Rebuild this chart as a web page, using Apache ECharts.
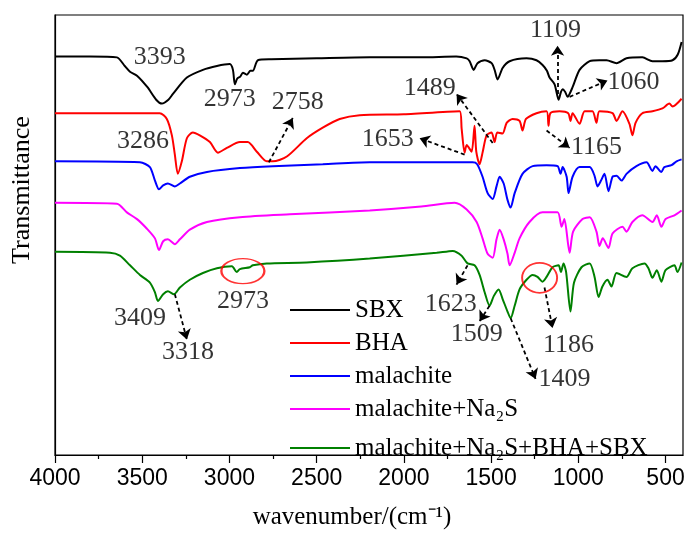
<!DOCTYPE html>
<html>
<head>
    <meta charset="utf-8">
    <title>FTIR</title>
    <script src="https://cdn.jsdelivr.net/npm/echarts@6.0.0/dist/echarts.min.js"></script>
</head>
<body style="margin:0;background:#fff;">
    <div id="main" style="width:692px;height:535px;"></div>
    <script type="text/javascript">
        // [wavenumber, transmittance (a.u., curves stacked)]
        var sbx = [[4000,414],[3800,414],[3645,413],[3600,404],[3570,398],[3530,394],[3470,382],[3420,369],[3387,365],[3350,369],[3324,375],[3244,392],[3152,400],[3072,404],[2998,406],[2980,400],[2969,385],[2955,391],[2938,393],[2923,397],[2900,395],[2880,399],[2866,399],[2837,410],[2760,411],[2500,412],[2196,413],[1900,413],[1700,414],[1640,412],[1623,409],[1600,400],[1578,407],[1537,410],[1497,407],[1480,400],[1463,390],[1434,402],[1394,409],[1297,412],[1240,410],[1205,405],[1180,399],[1165,392],[1136,385],[1113,369],[1100,377],[1090,380],[1075,377],[1062,372],[1033,382],[993,400],[935,409],[880,410],[838,410],[781,407],[724,412],[633,413],[575,409],[518,409],[460,410],[430,416],[408,429]];
        var bha = [[4000,355],[3400,355],[3359,349],[3330,332],[3313,312],[3296,292],[3273,305],[3244,329],[3210,335],[3170,332],[3112,325],[3066,314],[3015,319],[2940,325],[2895,325],[2843,315],[2786,305],[2751,305],[2671,310],[2557,329],[2465,340],[2368,349],[2253,353],[2000,354],[1680,357],[1669,339],[1652,314],[1640,322],[1612,315],[1595,342],[1585,315],[1566,302],[1548,315],[1526,332],[1497,335],[1480,325],[1465,335],[1434,334],[1411,345],[1377,349],[1337,347],[1320,337],[1300,349],[1240,355],[1182,357],[1171,342],[1160,355],[1108,357],[1058,355],[1045,347],[1033,355],[993,344],[964,357],[919,357],[896,345],[879,357],[804,355],[781,347],[747,357],[707,344],[690,332],[672,345],[633,355],[575,357],[518,360],[478,365],[460,362],[408,370]];
        var malachite = [[4000,305],[3513,304],[3456,299],[3427,285],[3404,276],[3380,280],[3353,282],[3313,279],[3284,282],[3227,289],[3129,294],[2940,298],[2751,300],[2465,302],[2196,304],[1800,304],[1606,304],[1580,302],[1549,289],[1520,272],[1491,266],[1469,279],[1451,289],[1428,282],[1406,265],[1388,257],[1365,272],[1320,292],[1262,300],[1182,301],[1119,300],[1102,292],[1090,299],[1067,289],[1056,272],[1033,289],[993,299],[935,299],[907,290],[890,279],[870,285],[850,292],[827,274],[804,289],[781,290],[752,285],[724,292],[667,300],[609,304],[575,295],[558,300],[524,294],[507,299],[466,301],[437,305],[408,307]];
        var malNa2S = [[4000,262],[3645,261],[3588,252],[3530,245],[3473,235],[3427,225],[3404,213],[3380,222],[3353,224],[3313,219],[3284,224],[3227,234],[3129,242],[2940,247],[2654,250],[2196,254],[1900,258],[1709,262],[1640,255],[1583,242],[1549,225],[1520,209],[1491,205],[1469,224],[1451,234],[1428,224],[1406,209],[1394,197],[1365,210],[1337,225],[1280,242],[1205,252],[1119,252],[1096,237],[1080,245],[1050,210],[1030,232],[976,245],[935,247],[896,232],[879,217],[860,225],[827,215],[804,230],[747,237],[724,232],[690,242],[633,249],[575,242],[550,249],[524,237],[500,245],[449,249],[408,254]];
        var malAll = [[4000,211],[3685,210],[3628,207],[3570,197],[3513,187],[3456,179],[3427,169],[3410,160],[3380,167],[3353,170],[3318,167],[3284,174],[3227,182],[3152,189],[3072,194],[2986,196],[2958,190],[2940,193],[2883,195],[2866,197],[2786,199],[2557,200],[2196,204],[1812,210],[1720,212],[1669,207],[1635,199],[1595,197],[1566,187],[1537,169],[1509,155],[1485,165],[1457,172],[1434,162],[1406,149],[1388,142],[1365,155],[1337,172],[1297,182],[1262,187],[1234,185],[1205,180],[1182,185],[1148,195],[1113,197],[1100,190],[1085,199],[1070,190],[1045,149],[1025,179],[982,195],[935,199],[907,185],[884,164],[862,175],[833,182],[810,175],[781,189],[724,185],[690,194],[621,199],[598,194],[575,184],[550,192],[524,180],[500,192],[449,197],[432,190],[408,200]];

        var names = ['SBX', 'BHA', 'malachite', 'malachite+Na₂S', 'malachite+Na₂S+BHA+SBX'];
        var colors = ['#000000', '#ff0000', '#0000ff', '#ff00ff', '#008000'];
        var spectra = [sbx, bha, malachite, malNa2S, malAll];

        var majorTicks = [500, 1000, 1500, 2000, 2500, 3000, 3500, 4000];
        var minorTicks = [750, 1250, 1750, 2250, 2750, 3250, 3750];

        // peak labels: [text, wavenumber, y]
        var peakLabels = [
            ['3393', 3399, 413], ['2973', 2998, 370], ['2758', 2608, 366], ['3286', 3496, 326],
            ['1109', 1131, 441], ['1060', 684, 387], ['1489', 1852, 381], ['1653', 2093, 328],
            ['1165', 896, 320], ['3409', 3513, 142], ['3318', 3238, 107], ['2973', 2923, 160],
            ['1623', 1732, 157], ['1509', 1583, 125], ['1409', 1079, 79], ['1186', 1056, 114]
        ];
        // dashed arrows: [from, to]
        var arrows = [
            [[2774, 304], [2637, 350]], [[1119, 375], [1119, 425]], [[1050, 372], [833, 389]],
            [[1491, 324], [1698, 375]], [[1652, 312], [1910, 329]], [[1182, 337], [1050, 319]],
            [[3313, 167], [3244, 120]], [[1635, 197], [1698, 177]], [[1509, 155], [1566, 139]],
            [[1388, 142], [1245, 79]], [[1194, 174], [1148, 132]]
        ];
        var circled = [[2923, 191], [1222, 184]];
        var circleSizes = [[43, 25], [35, 30]];

        var serif = 'Liberation Serif, Times New Roman, serif';

        var chart = echarts.init(document.getElementById('main'));

        var series = spectra.map(function (d, i) {
            return {
                name: names[i],
                type: 'line',
                data: d,
                symbol: 'none',
                smooth: 0.25,
                lineStyle: { color: colors[i], width: 2 },
                itemStyle: { color: colors[i] },
                silent: true
            };
        });
        series.push({
            type: 'lines',
            coordinateSystem: 'cartesian2d',
            data: arrows.map(function (a) { return { coords: a }; }),
            symbol: ['none', 'arrow'],
            symbolSize: 10,
            lineStyle: { color: '#000', width: 1.8, type: [4, 3], opacity: 1 },
            silent: true,
            z: 5
        });
        series.push({
            type: 'scatter',
            data: circled,
            symbol: 'circle',
            symbolSize: function (v, p) { return circleSizes[p.dataIndex]; },
            itemStyle: { color: 'rgba(0,0,0,0)', borderColor: '#ff0000', borderWidth: 1.8 },
            silent: true,
            z: 6
        });
        series.push({
            type: 'scatter',
            data: peakLabels.map(function (p) { return [p[1], p[2], p[0]]; }),
            symbolSize: 1,
            itemStyle: { color: 'rgba(0,0,0,0)' },
            label: {
                show: true,
                position: 'inside',
                formatter: function (p) { return p.value[2]; },
                color: '#000',
                fontFamily: serif,
                fontSize: 26
            },
            silent: true,
            z: 7
        });

        var axisCommon = {
            type: 'value',
            min: 400,
            max: 4000,
            inverse: true,
            position: 'bottom',
            splitLine: { show: false }
        };

        var legendText = { color: '#000', fontFamily: serif, fontSize: 25, lineHeight: 26 };

        var option = {
            animation: false,
            backgroundColor: '#fff',
            grid: {
                left: 55, right: 9, top: 15, bottom: 63,
                show: true, borderColor: '#000', borderWidth: 1.2
            },
            legend: [{
                data: names.slice(0, 4),
                orient: 'vertical',
                left: 290, top: 297,
                padding: 0,
                icon: 'rect',
                itemWidth: 60, itemHeight: 2, itemGap: 7,
                textStyle: legendText
            }, {
                data: names.slice(4),
                orient: 'vertical',
                left: 290, top: 435,
                padding: 0,
                icon: 'rect',
                itemWidth: 60, itemHeight: 2,
                textStyle: legendText
            }],
            xAxis: [Object.assign({}, axisCommon, {
                name: 'wavenumber/(cm⁻¹)',
                nameLocation: 'middle',
                nameGap: 50,
                nameTextStyle: { color: '#000', fontFamily: serif, fontSize: 25, padding: [0, 34, 0, 0] },
                axisLine: { lineStyle: { color: '#000', width: 1.2 } },
                axisTick: { show: true, length: 8, customValues: majorTicks, lineStyle: { color: '#000', width: 1.2 } },
                axisLabel: {
                    customValues: majorTicks,
                    formatter: function (v) { return String(v); },
                    color: '#000', fontFamily: 'Liberation Sans, Arial, sans-serif', fontSize: 23, margin: 12
                }
            }), Object.assign({}, axisCommon, {
                axisLine: { show: false },
                axisTick: { show: true, length: 4, customValues: minorTicks, lineStyle: { color: '#000', width: 1.2 } },
                axisLabel: { show: false }
            })],
            yAxis: {
                type: 'value',
                min: 0,
                max: 457,
                axisLine: { show: true, lineStyle: { color: '#000', width: 1.2 } },
                axisTick: { show: false },
                axisLabel: { show: false },
                splitLine: { show: false }
            },
            graphic: [{
                type: 'text',
                x: 22,
                y: 190,
                rotation: Math.PI / 2,
                style: {
                    text: 'Transmittance',
                    fill: '#000',
                    font: '26px ' + serif,
                    textAlign: 'center',
                    textVerticalAlign: 'middle'
                }
            }],
            series: series
        };

        chart.setOption(option);
    </script>
</body>
</html>
